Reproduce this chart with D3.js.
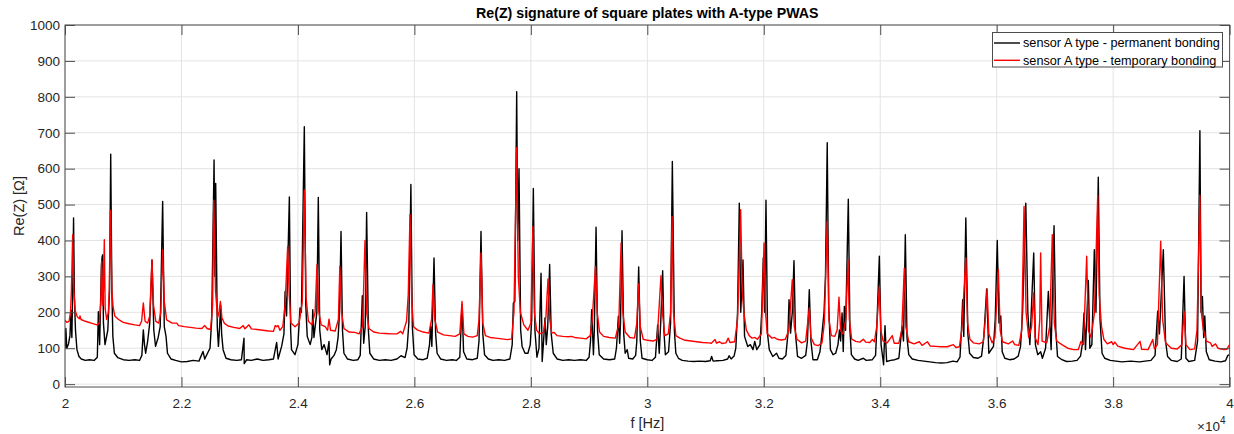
<!DOCTYPE html>
<html>
<head>
<meta charset="utf-8">
<script src="https://cdn.jsdelivr.net/npm/d3@7"></script>
<style>
  html, body { margin: 0; padding: 0; background: #fff; }
  svg { display: block; font-family: "Liberation Sans", Arial, Helvetica, sans-serif; }
</style>
</head>
<body>
<svg id="chart" width="1234" height="434"></svg>
<script>
// ---- data (frequency in units of 10^4 Hz, Re(Z) in ohms) ----
const chartTitle = "Re(Z) signature of square plates with A-type PWAS";
const xLabel = "f [Hz]";
const yLabel = "Re(Z) [\u03A9]";
const seriesNames = ["sensor A type - permanent bonding", "sensor A type - temporary bonding"];
const seriesColors = ["#000000", "#ff0000"];
const xTicks = [2, 2.2, 2.4, 2.6, 2.8, 3, 3.2, 3.4, 3.6, 3.8, 4];
const yTicks = [0, 100, 200, 300, 400, 500, 600, 700, 800, 900, 1000];

const permanent = [
[2.000,100],[2.0015,155],[2.003,100],[2.006,112],[2.0085,135],[2.0103,205],[2.0118,130],[2.0135,290],[2.0147,463],[2.0162,240],[2.018,150],[2.0205,96],[2.024,77],[2.028,70],[2.035,66],[2.042,68],[2.05,66],
[2.0555,75],[2.0573,202],[2.0595,110],[2.0625,330],[2.0638,355],[2.0647,360],[2.066,170],[2.0687,110],[2.0735,150],[2.0765,260],[2.0785,640],[2.0805,260],[2.0822,133],[2.0848,86],[2.0905,74],[2.10,68],[2.11,66],[2.12,68],[2.128,66],
[2.132,80],[2.1345,151],[2.1365,110],[2.1385,86],[2.142,120],[2.1455,170],[2.1494,346],[2.1525,150],[2.1555,105],[2.160,130],[2.1635,160],[2.1677,509],[2.1705,160],[2.1735,133],[2.176,86],[2.182,70],[2.19,66],[2.20,62],[2.21,63],[2.22,66],[2.23,64],
[2.237,91],[2.240,70],[2.246,90],[2.249,100],[2.252,180],[2.256,624],[2.2575,300],[2.2588,559],[2.2615,160],[2.2635,105],[2.2655,160],[2.2673,220],[2.269,140],[2.2715,96],[2.2765,72],[2.285,68],[2.295,66],[2.303,68],[2.3074,128],[2.3078,57],[2.312,68],[2.32,66],[2.33,70],[2.34,66],[2.35,68],
[2.358,70],[2.3635,116],[2.366,70],[2.372,105],[2.376,140],[2.378,258],[2.3805,190],[2.3853,521],[2.3875,150],[2.389,96],[2.395,82],[2.400,110],[2.4036,212],[2.406,200],[2.411,717],[2.4135,220],[2.416,133],[2.421,110],[2.424,130],[2.4255,207],[2.4275,130],[2.4325,200],[2.435,520],[2.4375,150],[2.441,96],[2.445,110],[2.450,82],[2.4534,119],[2.4545,54],[2.457,70],
[2.462,80],[2.466,96],[2.469,130],[2.4715,200],[2.474,425],[2.4765,150],[2.479,86],[2.485,70],[2.495,66],[2.503,68],[2.507,80],[2.5106,246],[2.513,114],[2.5155,160],[2.518,478],[2.521,150],[2.5235,86],[2.530,70],[2.540,66],[2.550,68],[2.560,66],[2.570,70],[2.577,79],[2.584,74],
[2.5875,100],[2.5905,170],[2.594,556],[2.5965,160],[2.5995,82],[2.606,70],[2.615,68],[2.622,72],[2.626,110],[2.628,161],[2.630,105],[2.6337,351],[2.6365,140],[2.639,86],[2.645,70],[2.655,66],[2.665,68],[2.672,66],[2.678,75],[2.6818,221],[2.6845,90],[2.690,70],[2.700,68],
[2.708,72],[2.711,120],[2.7144,425],[2.7175,140],[2.7205,82],[2.727,70],[2.735,66],[2.745,68],[2.755,66],[2.764,70],[2.768,110],[2.770,226],[2.7725,230],[2.7757,814],[2.7775,400],[2.7797,600],[2.7825,150],[2.785,105],[2.790,86],[2.795,86],[2.799,110],[2.8015,180],[2.8043,545],[2.807,150],[2.8105,75],
[2.8140,100],[2.8175,309],[2.8195,63],[2.8215,110],[2.8243,184],[2.8265,110],[2.829,160],[2.8323,333],[2.835,140],[2.8385,86],[2.845,70],[2.855,66],[2.865,68],[2.875,66],[2.885,68],[2.895,66],[2.900,75],[2.9025,120],[2.9045,207],[2.9075,82],[2.909,150],[2.912,437],[2.9145,150],[2.9175,82],[2.925,70],[2.935,68],
[2.944,70],[2.947,100],[2.9503,189],[2.9525,114],[2.954,170],[2.9566,427],[2.9595,140],[2.962,86],[2.9655,96],[2.968,72],[2.975,70],[2.980,80],[2.982,120],[2.9852,326],[2.988,120],[2.991,72],[3.000,68],[3.008,66],[3.014,75],[3.0178,165],[3.0205,86],[3.023,170],[3.0264,316],[3.0285,150],[3.031,82],
[3.0365,90],[3.040,170],[3.043,620],[3.0465,150],[3.049,86],[3.0535,72],[3.06,66],[3.07,64],[3.08,63],[3.09,64],[3.10,63],[3.108,65],[3.1105,77],[3.113,64],[3.12,65],[3.13,66],[3.138,70],[3.1405,79],[3.144,70],[3.149,78],[3.152,100],[3.155,200],[3.158,504],[3.1605,200],[3.1643,346],[3.167,133],
[3.1725,105],[3.177,110],[3.1815,96],[3.1845,119],[3.188,96],[3.1935,110],[3.1965,200],[3.1992,351],[3.2015,200],[3.2038,512],[3.2065,140],[3.2095,96],[3.2155,77],[3.222,86],[3.226,72],[3.232,70],[3.238,80],[3.2415,140],[3.2434,235],[3.246,142],[3.249,200],[3.2519,344],[3.2545,140],[3.258,77],
[3.265,72],[3.272,80],[3.275,120],[3.2782,263],[3.281,120],[3.2845,68],[3.292,68],[3.2965,90],[3.2995,133],[3.3035,200],[3.306,300],[3.309,672],[3.3115,220],[3.3145,96],[3.319,82],[3.3235,86],[3.3275,110],[3.330,151],[3.332,120],[3.3345,198],[3.3365,91],[3.3384,216],[3.3405,150],[3.3452,515],[3.348,150],[3.3505,82],
[3.356,70],[3.362,66],[3.371,72],[3.376,66],[3.3865,68],[3.392,80],[3.394,151],[3.3985,356],[3.4015,110],[3.4058,54],[3.4082,163],[3.411,63],[3.418,66],[3.425,68],[3.432,72],[3.4375,161],[3.440,120],[3.4431,416],[3.446,130],[3.449,82],[3.455,70],[3.465,66],[3.475,64],[3.485,62],[3.495,60],[3.505,59],[3.515,60],[3.525,64],
[3.532,62],[3.537,75],[3.5395,150],[3.5416,235],[3.5435,133],[3.547,463],[3.5505,140],[3.5535,86],[3.560,74],[3.568,72],[3.574,78],[3.578,133],[3.5828,265],[3.5865,86],[3.5945,105],[3.5975,180],[3.601,400],[3.604,170],[3.607,190],[3.6095,90],[3.614,72],[3.622,68],[3.630,70],
[3.637,78],[3.641,105],[3.6445,200],[3.650,504],[3.6535,200],[3.657,110],[3.6636,365],[3.6665,110],[3.6705,82],[3.6755,90],[3.6785,72],[3.684,100],[3.6887,258],[3.6935,96],[3.6985,441],[3.7015,150],[3.7045,77],[3.712,68],[3.72,63],[3.73,64],[3.738,66],
[3.744,78],[3.747,110],[3.750,198],[3.7525,96],[3.7574,289],[3.760,100],[3.7635,110],[3.7677,374],[3.7705,200],[3.7745,576],[3.7775,180],[3.781,86],[3.7855,72],[3.795,66],[3.805,64],[3.815,62],[3.83,64],[3.845,62],[3.855,64],[3.865,66],
[3.872,80],[3.8765,203],[3.8795,140],[3.8862,374],[3.890,120],[3.8935,77],[3.900,66],[3.910,63],[3.917,70],[3.9218,300],[3.925,72],[3.930,63],[3.940,66],[3.945,120],[3.949,706],[3.951,200],[3.9533,244],[3.9555,130],[3.9574,190],[3.960,90],[3.965,68],[3.975,64],[3.985,62],[3.993,65],[3.997,80],[4.000,82]
];

const temporary = [
[2.000,178],[2.003,172],[2.007,175],[2.0095,200],[2.011,260],[2.0132,416],[2.0152,260],[2.0175,205],[2.021,188],[2.0245,182],[2.0258,190],[2.0275,180],[2.035,175],[2.045,170],[2.055,165],
[2.059,170],[2.0615,230],[2.063,342],[2.0645,220],[2.066,260],[2.0675,402],[2.069,210],[2.0715,180],[2.0745,200],[2.076,260],[2.078,484],[2.0805,260],[2.0825,216],[2.0855,190],[2.092,180],[2.10,172],[2.11,168],[2.12,165],[2.128,163],
[2.1315,175],[2.1345,226],[2.1375,175],[2.142,170],[2.1455,190],[2.1494,346],[2.152,220],[2.156,175],[2.161,170],[2.1645,200],[2.1677,374],[2.1705,230],[2.1745,179],[2.184,170],[2.192,170],[2.195,163],[2.205,160],[2.215,158],[2.225,156],[2.235,155],[2.24,163],[2.244,155],[2.25,152],
[2.2535,220],[2.2555,512],[2.2585,260],[2.262,185],[2.2645,200],[2.2668,230],[2.2695,185],[2.2735,170],[2.280,162],[2.29,158],[2.30,155],[2.306,163],[2.309,154],[2.316,165],[2.32,154],[2.33,152],[2.34,150],[2.35,148],[2.358,147],[2.361,163],[2.3635,160],[2.366,163],[2.369,150],
[2.374,160],[2.378,220],[2.3824,384],[2.385,250],[2.388,170],[2.395,160],[2.402,170],[2.4075,230],[2.411,540],[2.414,240],[2.418,175],[2.424,165],[2.4295,200],[2.4328,333],[2.436,200],[2.440,165],[2.447,160],[2.451,150],[2.4534,181],[2.456,150],[2.464,148],
[2.4695,180],[2.472,328],[2.475,200],[2.479,155],[2.488,145],[2.498,144],[2.505,140],[2.511,160],[2.5152,400],[2.518,200],[2.522,155],[2.53,145],[2.54,142],[2.55,141],[2.56,140],[2.570,140],[2.5765,147],[2.580,140],
[2.5865,175],[2.5895,250],[2.5925,472],[2.5955,230],[2.5985,160],[2.605,151],[2.615,145],[2.625,142],[2.6295,180],[2.632,277],[2.635,180],[2.640,145],[2.65,137],[2.66,135],[2.67,133],[2.678,140],[2.6818,230],[2.685,140],[2.692,133],[2.700,131],
[2.708,135],[2.711,180],[2.7144,365],[2.7175,170],[2.722,135],[2.73,130],[2.74,128],[2.75,126],[2.76,124],[2.767,126],[2.771,200],[2.7757,658],[2.7785,300],[2.782,200],[2.788,165],[2.795,150],[2.800,170],[2.8035,439],[2.806,200],[2.810,150],[2.815,140],
[2.822,145],[2.826,190],[2.8295,293],[2.8325,180],[2.836,142],[2.840,144],[2.845,135],[2.855,133],[2.865,132],[2.87,133],[2.875,130],[2.885,128],[2.895,126],[2.902,135],[2.9055,180],[2.911,328],[2.914,200],[2.918,145],[2.925,133],[2.935,130],[2.945,128],
[2.951,165],[2.955,393],[2.958,200],[2.962,145],[2.970,130],[2.978,128],[2.982,170],[2.985,279],[2.988,160],[2.993,125],[3.000,122],[3.010,120],[3.017,125],[3.0235,302],[3.026,200],[3.030,135],[3.036,140],[3.040,200],[3.0425,467],[3.045,200],[3.049,135],
[3.056,128],[3.065,122],[3.075,120],[3.085,118],[3.095,116],[3.105,115],[3.110,114],[3.1163,124],[3.119,114],[3.124,118],[3.128,113],[3.135,115],[3.139,128],[3.142,116],[3.150,118],[3.155,180],[3.1603,486],[3.163,260],[3.166,198],[3.170,151],[3.175,135],[3.180,128],[3.185,130],[3.189,125],
[3.196,140],[3.2005,393],[3.203,200],[3.206,140],[3.211,133],[3.214,128],[3.218,130],[3.223,125],[3.230,123],[3.237,125],[3.243,150],[3.249,291],[3.2525,160],[3.257,125],[3.265,115],[3.272,120],[3.2782,212],[3.281,130],[3.287,110],[3.293,107],
[3.300,115],[3.304,170],[3.309,453],[3.312,180],[3.316,135],[3.322,133],[3.326,150],[3.3292,242],[3.332,150],[3.336,140],[3.341,180],[3.3445,346],[3.347,180],[3.351,125],[3.358,119],[3.365,117],[3.371,125],[3.375,117],[3.382,116],[3.3864,124],[3.390,118],
[3.394,160],[3.3985,272],[3.401,150],[3.405,120],[3.412,115],[3.4207,135],[3.424,114],[3.432,114],[3.437,150],[3.4414,323],[3.444,160],[3.449,118],[3.458,112],[3.4671,118],[3.472,108],[3.481,118],[3.486,106],[3.495,105],[3.505,104],[3.515,104],[3.5256,110],[3.530,102],
[3.536,104],[3.540,150],[3.547,351],[3.550,170],[3.554,125],[3.560,115],[3.570,112],[3.577,118],[3.5805,180],[3.5835,265],[3.5865,140],[3.592,115],[3.597,130],[3.6028,319],[3.606,150],[3.610,118],[3.620,112],[3.6275,120],[3.631,110],
[3.638,108],[3.643,150],[3.647,495],[3.6505,200],[3.655,130],[3.660,160],[3.6635,254],[3.666,130],[3.671,110],[3.674,180],[3.6755,365],[3.678,120],[3.686,115],[3.691,160],[3.6955,416],[3.699,170],[3.703,120],[3.712,110],[3.722,100],[3.732,96],[3.740,96],
[3.7448,119],[3.749,110],[3.7546,356],[3.7575,150],[3.762,130],[3.768,200],[3.7735,526],[3.776,250],[3.780,161],[3.784,125],[3.790,112],[3.7975,118],[3.800,110],[3.8029,117],[3.808,106],[3.820,100],[3.835,96],[3.8462,119],[3.849,97],[3.860,96],
[3.868,124],[3.871,98],[3.876,110],[3.8817,398],[3.885,180],[3.890,115],[3.900,100],[3.910,98],[3.918,110],[3.9218,202],[3.925,110],[3.932,96],[3.940,98],[3.944,150],[3.949,526],[3.9515,200],[3.955,151],[3.960,120],[3.9672,115],[3.970,105],[3.9758,112],[3.980,100],[3.990,96],[3.995,97],[4.000,110]
];

// ---- layout ----
const plot = { left: 65, right: 1229.6, top: 25, bottom: 387 };
const svg = d3.select("#chart");

const x = d3.scaleLinear().domain([2, 4]).range([plot.left, plot.right]);
const y = d3.scaleLinear().domain([-8, 1000]).range([plot.bottom, plot.top]);

const axisColor = "#4d4d4d";
const textColor = "#262626";
const gridColor = "#e3e3e3";

// grid
const grid = svg.append("g");
grid.selectAll("line.gx").data(xTicks).enter().append("line")
  .attr("x1", d => x(d)).attr("x2", d => x(d))
  .attr("y1", plot.top).attr("y2", plot.bottom)
  .attr("stroke", gridColor).attr("stroke-width", 1);
grid.selectAll("line.gy").data(yTicks).enter().append("line")
  .attr("x1", plot.left).attr("x2", plot.right)
  .attr("y1", d => y(d)).attr("y2", d => y(d))
  .attr("stroke", gridColor).attr("stroke-width", 1);

// clip
svg.append("clipPath").attr("id", "clip").append("rect")
  .attr("x", plot.left).attr("y", plot.top)
  .attr("width", plot.right - plot.left).attr("height", plot.bottom - plot.top);

const line = d3.line().x(d => x(d[0])).y(d => y(d[1]));
const series = [permanent, temporary];
svg.append("g").attr("clip-path", "url(#clip)")
  .selectAll("path").data(series).enter().append("path")
  .attr("d", d => line(d))
  .attr("fill", "none")
  .attr("stroke", (d, i) => seriesColors[i])
  .attr("stroke-width", 1.4)
  .attr("stroke-linejoin", "round");

// axes (MATLAB style: inward ticks, box)
const tickLen = 10;
const bottomAxis = d3.axisBottom(x).tickValues(xTicks).tickSizeInner(-tickLen).tickSizeOuter(0).tickPadding(11).tickFormat(d3.format("~g"));
const topAxis = d3.axisTop(x).tickValues(xTicks).tickSizeInner(-tickLen).tickSizeOuter(0).tickFormat("");
const leftAxis = d3.axisLeft(y).tickValues(yTicks).tickSizeInner(-tickLen).tickSizeOuter(0).tickPadding(5).tickFormat(d3.format("d"));
const rightAxis = d3.axisRight(y).tickValues(yTicks).tickSizeInner(-tickLen).tickSizeOuter(0).tickFormat("");

function styleAxis(g) {
  g.select(".domain").remove();
  g.selectAll(".tick line").attr("stroke", axisColor).attr("stroke-width", 1);
  g.selectAll(".tick text").attr("fill", textColor).style("font-size", "13.5px")
    .style("font-family", "'Liberation Sans', Arial, sans-serif");
}
svg.append("g").attr("transform", `translate(0,${plot.bottom})`).call(bottomAxis).call(styleAxis);
svg.append("g").attr("transform", `translate(0,${plot.top})`).call(topAxis).call(styleAxis);
svg.append("g").attr("transform", `translate(${plot.left},0)`).call(leftAxis).call(styleAxis);
svg.append("g").attr("transform", `translate(${plot.right},0)`).call(rightAxis).call(styleAxis);

// box
svg.append("rect")
  .attr("x", plot.left).attr("y", plot.top)
  .attr("width", plot.right - plot.left).attr("height", plot.bottom - plot.top)
  .attr("fill", "none").attr("stroke", axisColor).attr("stroke-width", 1);

// title
svg.append("text").attr("x", (plot.left + plot.right) / 2).attr("y", 18)
  .attr("text-anchor", "middle").attr("fill", "#000")
  .style("font-size", "14.2px").style("font-weight", "bold")
  .text(chartTitle);

// x label
svg.append("text").attr("x", (plot.left + plot.right) / 2).attr("y", 428)
  .attr("text-anchor", "middle").attr("fill", textColor)
  .style("font-size", "14.5px").text(xLabel);

// exponent
const ex = svg.append("text").attr("x", 1197).attr("y", 431).attr("fill", textColor).style("font-size", "13.5px");
ex.append("tspan").text("\u00D710");
ex.append("tspan").attr("dy", -7).style("font-size", "10px").text("4");

// y label
svg.append("text")
  .attr("transform", `translate(24,${(plot.top + plot.bottom) / 2}) rotate(-90)`)
  .attr("text-anchor", "middle").attr("fill", textColor)
  .style("font-size", "14.5px").text(yLabel);

// legend
const lg = svg.append("g");
lg.append("rect").attr("x", 992.5).attr("y", 32.5).attr("width", 230).attr("height", 34.5)
  .attr("fill", "#fff").attr("stroke", axisColor).attr("stroke-width", 1);
seriesNames.forEach((name, i) => {
  const cy = 43 + i * 17.3;
  lg.append("line").attr("x1", 994).attr("x2", 1020).attr("y1", cy).attr("y2", cy)
    .attr("stroke", seriesColors[i]).attr("stroke-width", 1.4);
  lg.append("text").attr("x", 1023).attr("y", cy).attr("dy", "0.35em")
    .attr("fill", "#000").style("font-size", "12.7px").text(name);
});
</script>
</body>
</html>
